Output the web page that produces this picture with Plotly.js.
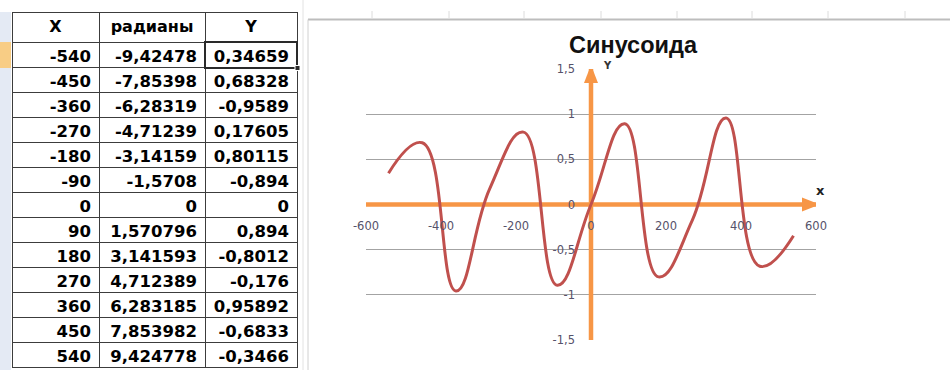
<!DOCTYPE html>
<html>
<head>
<meta charset="utf-8">
<script src="https://cdn.plot.ly/plotly-3.0.1.min.js"></script>
<style>
html,body{margin:0;padding:0;background:#fff;}
#chart{width:950px;height:370px;}
</style>
</head>
<body>
<div id="chart"></div>
<script>
// ---- data ----
var headers = ['X', 'радианы', 'Y'];
var X = [-540, -450, -360, -270, -180, -90, 0, 90, 180, 270, 360, 450, 540];
var radians = [-9.42478, -7.85398, -6.28319, -4.71239, -3.14159, -1.5708, 0, 1.570796, 3.141593, 4.712389, 6.283185, 7.853982, 9.424778];
var Y = [0.34659, 0.68328, -0.9589, 0.17605, 0.80115, -0.894, 0, 0.894, -0.8012, -0.176, 0.95892, -0.6833, -0.3466];
var title = 'Синусоида';
var xTicks = [-600, -400, -200, 0, 200, 400, 600];
var yTicks = [-1.5, -1, -0.5, 0, 0.5, 1, 1.5];
var xRange = [-600, 600];
var yRange = [-1.5, 1.5];

function fmt(v) { return String(v).replace('.', ','); }

var W = 950, H = 370;
function px(x) { return x / W; }
function py(y) { return 1 - y / H; }

var orange = '#f79646';
var red = '#c0504d';

var table = {
  type: 'table',
  domain: {x: [px(12), px(297)], y: [0, py(12)]},
  columnwidth: [87, 106, 92],
  header: {
    values: headers,
    align: 'center',
    height: 30,
    fill: {color: '#ffffff'},
    line: {color: '#3c3c3c', width: 1},
    font: {family: 'DejaVu Sans', size: 16, color: '#000', weight: 'bold'}
  },
  cells: {
    values: [X.map(fmt), radians.map(fmt), Y.map(fmt)],
    align: 'right',
    height: 25,
    fill: {color: '#ffffff'},
    line: {color: '#3c3c3c', width: 1},
    font: {family: 'DejaVu Sans', size: 16.5, color: '#000', weight: 'bold'}
  }
};

var curve = {
  type: 'scatter',
  mode: 'lines',
  x: X,
  y: Y,
  line: {color: red, width: 3, shape: 'spline', smoothing: 1.3},
  hoverinfo: 'skip'
};

var tickFont = {family: 'DejaVu Sans', size: 11.5, color: '#56526a'};

var shapes = [
  // spreadsheet decoration
  {type: 'rect', xref: 'paper', yref: 'paper', x0: 0, x1: px(11), y0: 0, y1: py(12), fillcolor: '#e4eaf4', line: {width: 0}, layer: 'below'},
  {type: 'rect', xref: 'paper', yref: 'paper', x0: 0, x1: px(11), y0: py(68), y1: py(42), fillcolor: '#f8cd85', line: {width: 0}, layer: 'below'},
  {type: 'line', xref: 'paper', yref: 'paper', x0: px(303), x1: px(303), y0: 0, y1: 1, line: {color: '#e2e2e2', width: 1}, layer: 'below'},
  // chart area border
  {type: 'line', xref: 'paper', yref: 'paper', x0: px(308), x1: 1, y0: py(19.5), y1: py(19.5), line: {color: '#bdbdbd', width: 2}},
  {type: 'line', xref: 'paper', yref: 'paper', x0: px(308), x1: px(308), y0: 0, y1: py(19.5), line: {color: '#d0d0d0', width: 1}},
  // selected cell
  {type: 'rect', xref: 'paper', yref: 'paper', x0: px(205), x1: px(297), y0: py(68), y1: py(42), line: {color: '#2a2a2a', width: 2}},
  {type: 'rect', xref: 'paper', yref: 'paper', x0: px(295), x1: px(300), y0: py(70.5), y1: py(65.5), fillcolor: '#2a2a2a', line: {color: '#ffffff', width: 1}},
  // orange axes
  {type: 'line', xref: 'x', yref: 'y', x0: xRange[0], x1: xRange[1], y0: 0, y1: 0, line: {color: orange, width: 4.5}, layer: 'between'},
  {type: 'line', xref: 'x', yref: 'y', x0: 0, x1: 0, y0: yRange[0], y1: yRange[1], line: {color: orange, width: 4.5}, layer: 'between'},
  {type: 'path', xref: 'x', yref: 'y', xsizemode: 'pixel', ysizemode: 'pixel', xanchor: xRange[1], yanchor: 0,
   path: 'M -14 -7 L 4 0 L -14 7 Z', fillcolor: orange, line: {width: 0}, layer: 'between'},
  {type: 'path', xref: 'x', yref: 'y', xsizemode: 'pixel', ysizemode: 'pixel', xanchor: 0, yanchor: yRange[1],
   path: 'M -7 -14 L 0 4 L 7 -14 Z', fillcolor: orange, line: {width: 0}, layer: 'between'}
];

// faint spreadsheet column marks above the chart
[372, 449, 524, 601, 677, 752, 828, 905].forEach(function (c) {
  shapes.push({type: 'line', xref: 'paper', yref: 'paper', x0: px(c), x1: px(c), y0: py(18), y1: py(11), line: {color: '#dcdcdc', width: 1}});
});

var layout = {
  width: W, height: H,
  margin: {l: 0, r: 0, t: 0, b: 0},
  paper_bgcolor: '#ffffff',
  plot_bgcolor: 'rgba(0,0,0,0)',
  showlegend: false,
  title: {
    text: title,
    x: px(633), xanchor: 'center', xref: 'paper',
    y: py(45), yanchor: 'middle', yref: 'paper',
    font: {family: 'Liberation Sans', size: 23.5, color: '#111', weight: 'bold'}
  },
  xaxis: {
    domain: [px(366), px(816)],
    range: xRange,
    anchor: 'free',
    position: py(204.5),
    showgrid: false,
    zeroline: false,
    showline: false,
    ticks: '',
    tickvals: xTicks,
    ticktext: xTicks.map(fmt),
    ticklabelstandoff: 13,
    tickfont: tickFont,
    automargin: false,
    fixedrange: true
  },
  yaxis: {
    domain: [py(340), py(69)],
    range: yRange,
    anchor: 'free',
    position: px(591),
    showgrid: true,
    gridcolor: '#a3a3a3',
    gridwidth: 1,
    zeroline: false,
    showline: false,
    ticks: '',
    tickvals: yTicks,
    ticktext: yTicks.map(fmt),
    ticklabelstandoff: 16,
    tickfont: tickFont,
    automargin: false,
    fixedrange: true
  },
  shapes: shapes,
  annotations: [
    {xref: 'paper', yref: 'paper', x: px(820), y: py(190), text: 'x', showarrow: false,
     xanchor: 'center', yanchor: 'middle', font: {family: 'DejaVu Sans', size: 13, color: '#222', weight: 'bold'}},
    {xref: 'paper', yref: 'paper', x: px(607), y: py(65), text: 'Y', showarrow: false,
     xanchor: 'center', yanchor: 'middle', font: {family: 'DejaVu Sans', size: 10, color: '#333', weight: 'bold'}}
  ]
};

Plotly.newPlot('chart', [table, curve], layout, {displayModeBar: false, staticPlot: true});
</script>
</body>
</html>
